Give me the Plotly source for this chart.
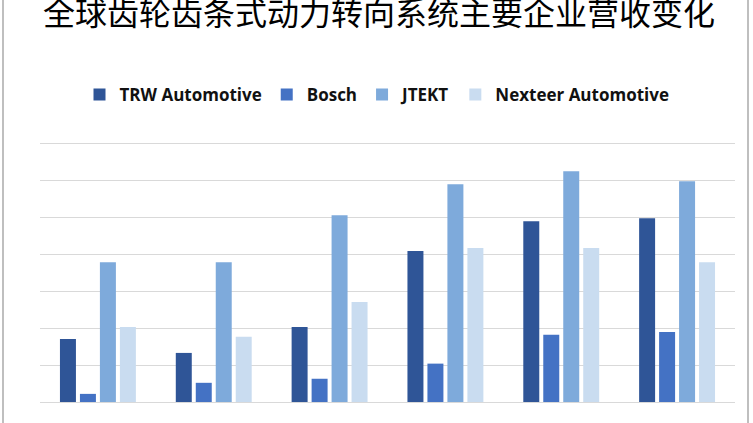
import plotly.graph_objects as go

title_text = "全球齿轮齿条式动力转向系统主要企业营收变化"
categories = ["2015年", "2016年", "2017年", "2018年", "2019年", "2020年"]
series_names = ["TRW Automotive", "Bosch", "JTEKT", "Nexteer Automotive"]
trw = [17.1, 13.3, 20.3, 40.9, 49.0, 49.8]
bosch = [2.2, 5.2, 6.3, 10.4, 18.2, 19.0]
jtekt = [37.9, 37.9, 50.6, 59.0, 62.5, 59.8]
nexteer = [20.3, 17.7, 27.1, 41.7, 41.7, 37.9]
colors = ["#2f5597", "#4472c4", "#7eaadb", "#c9dcf0"]

W, H = 753, 423
L, R, T, B = 40, 18, 140, 21

fig = go.Figure()
for name, vals, c in zip(series_names, [trw, bosch, jtekt, nexteer], colors):
    fig.add_trace(go.Bar(x=categories, y=vals, name=name, marker=dict(color=c, line=dict(width=0))))

pw = W - L - R
ph = H - T - B
def px_x(p):
    return (p - L) / pw
def px_y(p):
    return (H - B - p) / ph

fig.update_layout(
    width=W, height=H,
    margin=dict(l=L, r=R, t=T, b=B, autoexpand=False),
    paper_bgcolor="white", plot_bgcolor="white",
    barmode="group", bargap=0.31, bargroupgap=0.2,
    showlegend=True,
    legend=dict(orientation="h", x=px_x(377), xanchor="center", y=px_y(95), yanchor="middle",
                font=dict(family="Open Sans", size=17, color="#111111", weight="bold"),
                itemwidth=30, traceorder="normal", bgcolor="rgba(0,0,0,0)"),
    font=dict(family="Open Sans"),
    xaxis=dict(showgrid=False, showline=True, linecolor="#d9d9d9", linewidth=1, ticks="",
               tickfont=dict(size=15, color="#7f7f7f"), automargin=False, ticklabelstandoff=24),
    yaxis=dict(range=[0, 71], dtick=10, showgrid=True, gridcolor="#d9d9d9", gridwidth=1,
               showticklabels=False, zeroline=False, showline=False, automargin=False),
    annotations=[dict(text=title_text, xref="paper", yref="paper", x=px_x(379), y=px_y(11),
                      xanchor="center", yanchor="middle", showarrow=False,
                      font=dict(family="Noto Sans CJK SC", size=32, color="#000000"))],
    shapes=[
        dict(type="line", xref="paper", yref="paper", x0=px_x(3), x1=px_x(3), y0=px_y(0), y1=px_y(H),
             line=dict(color="#bfbfbf", width=2)),
        dict(type="line", xref="paper", yref="paper", x0=px_x(748), x1=px_x(748), y0=px_y(0), y1=px_y(H),
             line=dict(color="#bfbfbf", width=2)),
    ],
)
fig.write_html("out.html", config={"displayModeBar": False},
               post_script="document.body.style.margin='0';document.body.style.overflow='hidden';")
